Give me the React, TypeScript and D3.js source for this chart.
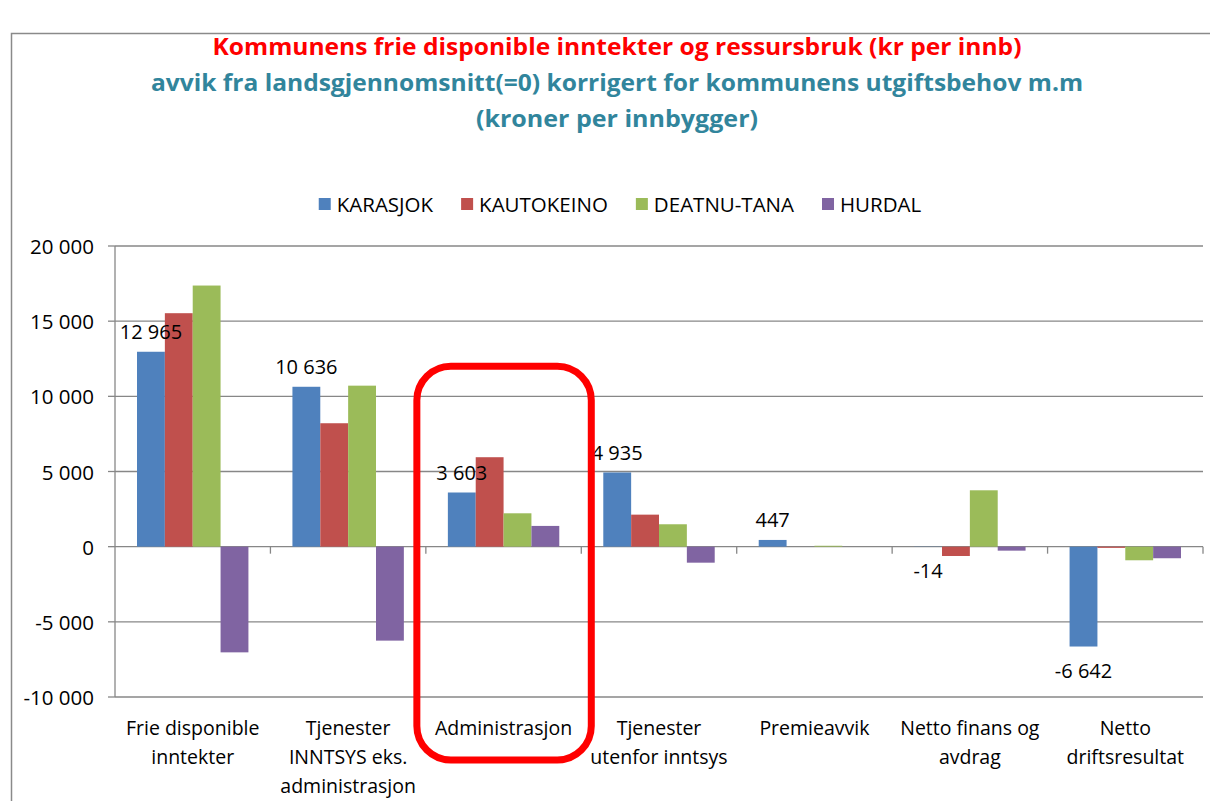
import React from "react";
import * as d3 from "d3";

const categories = [
  "Frie disponible\ninntekter",
  "Tjenester\nINNTSYS eks.\nadministrasjon",
  "Administrasjon",
  "Tjenester\nutenfor inntsys",
  "Premieavvik",
  "Netto finans og\navdrag",
  "Netto\ndriftsresultat",
];
const seriesNames = ["KARASJOK", "KAUTOKEINO", "DEATNU-TANA", "HURDAL"];
const karasjok = [12965, 10636, 3603, 4935, 447, -14, -6642];
const kautokeino = [15530, 8210, 5950, 2130, 0, -620, -80];
const deatnuTana = [17370, 10710, 2220, 1490, 60, 3750, -905];
const hurdal = [-7030, -6250, 1380, -1065, 0, -265, -770];
const seriesValues = [karasjok, kautokeino, deatnuTana, hurdal];
const seriesColors = ["#4F81BD", "#C0504D", "#9BBB59", "#8064A2"];
const yTicks = [-10000, -5000, 0, 5000, 10000, 15000, 20000];
const labelledSeries = "KARASJOK";
const highlighted = "Administrasjon";
const titleLines = [
  "Kommunens frie disponible inntekter og ressursbruk (kr per innb)",
  "avvik fra landsgjennomsnitt(=0) korrigert for kommunens utgiftsbehov m.m",
  "(kroner per innbygger)",
];

const FONT = "'Open Sans', 'Noto Sans', sans-serif";

const locale = d3.formatLocale({
  decimal: ",",
  thousands: "\u00a0",
  grouping: [3],
  currency: ["", ""],
  minus: "-",
});
const fmt = locale.format(",d");

function measure(text: string, font: string): number {
  if (typeof document === "undefined") return text.length * 10;
  const c = document.createElement("canvas");
  const ctx = c.getContext("2d");
  if (!ctx) return text.length * 10;
  ctx.font = font;
  return ctx.measureText(text).width;
}

export default function App() {
  const W = 1210;
  const H = 801;
  const left = 115;
  const right = 1203;
  const top = 246;
  const bottom = 697;

  const x0 = d3.scaleBand<string>().domain(categories).range([left, right]).padding(0);
  const x1 = d3
    .scaleBand<string>()
    .domain(seriesNames)
    .range([0, x0.bandwidth()])
    .paddingInner(0)
    .paddingOuter(0.79);
  const y = d3.scaleLinear().domain([-10000, 20000]).range([bottom, top]);

  const legendFontSize = 20.5;
  const legendFont = `${legendFontSize}px ${FONT}`;
  const sq = 12;
  const sqGap = 6;
  const itemGap = 28;
  const widths = seriesNames.map((n) => measure(n, legendFont));
  const totalLegend =
    widths.reduce((a, b) => a + b, 0) + seriesNames.length * (sq + sqGap) + (seriesNames.length - 1) * itemGap;
  let lx = 620 - totalLegend / 2;
  const legendItems = seriesNames.map((n, i) => {
    const item = { name: n, x: lx, color: seriesColors[i] };
    lx += sq + sqGap + widths[i] + itemGap;
    return item;
  });
  const legendY = 204;

  const titleWidths = [809, 932, 282];
  const titleY = [55, 91, 127];
  const titleColors = ["#FF0000", "#31859C", "#31859C"];

  const hx = x0(highlighted)!;
  const boxLeft = hx - 9;
  const boxRight = hx + x0.bandwidth() + 10;
  const boxTop = y(12000);
  const boxBottom = bottom + 63;

  const labelIdx = seriesNames.indexOf(labelledSeries);

  return (
    <svg
      width={W}
      height={H}
      style={{ position: "absolute", left: 0, top: 0, background: "#fff" }}
      fontFamily={FONT}
    >
      <rect x={0} y={0} width={W} height={H} fill="#fff" />
      <rect x={11.5} y={33.5} width={W + 20} height={H + 20} fill="none" stroke="#8a8a8a" strokeWidth={1.5} />

      {titleLines.map((t, i) => (
        <text
          key={i}
          x={617}
          y={titleY[i]}
          textAnchor="middle"
          fontWeight="bold"
          fontSize={24}
          fill={titleColors[i]}
          textLength={titleWidths[i]}
          lengthAdjust="spacingAndGlyphs"
        >
          {t}
        </text>
      ))}

      {legendItems.map((it) => (
        <g key={it.name}>
          <rect x={it.x} y={legendY - sq / 2} width={sq} height={sq} fill={it.color} />
          <text
            x={it.x + sq + sqGap}
            y={legendY}
            dominantBaseline="central"
            fontSize={legendFontSize}
            fill="#000"
          >
            {it.name}
          </text>
        </g>
      ))}

      {yTicks.map((t) => (
        <g key={t}>
          <line x1={left} x2={right} y1={y(t)} y2={y(t)} stroke="#878787" strokeWidth={1.3} />
          <line x1={left - 7} x2={left} y1={y(t)} y2={y(t)} stroke="#878787" strokeWidth={1.3} />
          <text x={94} y={y(t)} textAnchor="end" dominantBaseline="central" fontSize={20.5} fill="#000">
            {fmt(t)}
          </text>
        </g>
      ))}
      <line x1={left} x2={left} y1={top} y2={bottom} stroke="#878787" strokeWidth={1.3} />

      {categories.map((c) => (
        <line
          key={"t" + c}
          x1={x0(c)! + x0.bandwidth()}
          x2={x0(c)! + x0.bandwidth()}
          y1={y(0)}
          y2={y(0) + 7}
          stroke="#878787"
          strokeWidth={1.3}
        />
      ))}

      {categories.map((c, ci) => (
        <g key={"g" + c} transform={`translate(${x0(c)},0)`}>
          {seriesNames.map((s, si) => {
            const v = seriesValues[si][ci];
            const y0 = y(0);
            const yv = y(v);
            return (
              <rect
                key={s}
                x={x1(s)!}
                y={Math.min(y0, yv)}
                width={x1.bandwidth()}
                height={Math.abs(yv - y0)}
                fill={seriesColors[si]}
              />
            );
          })}
        </g>
      ))}

      {categories.map((c, ci) => {
        const v = seriesValues[labelIdx][ci];
        const cx = x0(c)! + x1(labelledSeries)! + x1.bandwidth() / 2;
        const ly = v >= 0 ? y(v) - 20 : y(v) + 24;
        return (
          <text key={"l" + c} x={cx} y={ly} textAnchor="middle" dominantBaseline="central" fontSize={20} fill="#000">
            {fmt(v)}
          </text>
        );
      })}

      {categories.map((c) => {
        const lines = c.split("\n");
        const cx = x0(c)! + x0.bandwidth() / 2;
        return (
          <text key={"c" + c} textAnchor="middle" fontSize={19.5} fill="#000">
            {lines.map((ln, i) => (
              <tspan key={i} x={cx} y={727 + i * 29} dominantBaseline="central">
                {ln}
              </tspan>
            ))}
          </text>
        );
      })}

      <rect
        x={boxLeft}
        y={boxTop}
        width={boxRight - boxLeft}
        height={boxBottom - boxTop}
        rx={34}
        ry={34}
        fill="none"
        stroke="#FF0000"
        strokeWidth={7}
      />
    </svg>
  );
}
